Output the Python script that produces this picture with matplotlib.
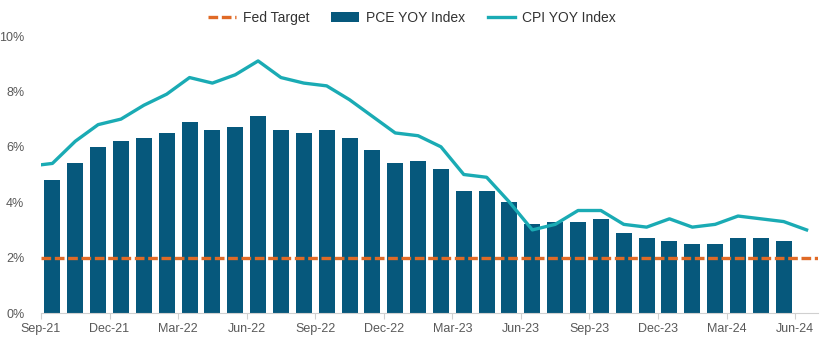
import matplotlib.pyplot as plt
import numpy as np

plt.rcParams['font.family'] = ['Liberation Sans', 'DejaVu Sans']

# monthly data, Sep-21 .. Jun-24 (PCE ends May-24)
months = ["Sep-21", "Oct-21", "Nov-21", "Dec-21", "Jan-22", "Feb-22", "Mar-22", "Apr-22",
          "May-22", "Jun-22", "Jul-22", "Aug-22", "Sep-22", "Oct-22", "Nov-22", "Dec-22",
          "Jan-23", "Feb-23", "Mar-23", "Apr-23", "May-23", "Jun-23", "Jul-23", "Aug-23",
          "Sep-23", "Oct-23", "Nov-23", "Dec-23", "Jan-24", "Feb-24", "Mar-24", "Apr-24",
          "May-24", "Jun-24"]
pce = [4.8, 5.4, 6.0, 6.2, 6.3, 6.5, 6.9, 6.6, 6.7, 7.1, 6.6, 6.5, 6.6, 6.3, 5.9, 5.4,
       5.5, 5.2, 4.4, 4.4, 4.0, 3.2, 3.3, 3.3, 3.4, 2.9, 2.7, 2.6, 2.5, 2.5, 2.7, 2.7, 2.6]
# CPI includes Aug-21 (clipped at left edge of chart)
cpi_aug21 = 5.3
cpi = [5.4, 6.2, 6.8, 7.0, 7.5, 7.9, 8.5, 8.3, 8.6, 9.1, 8.5, 8.3, 8.2, 7.7, 7.1, 6.5,
       6.4, 6.0, 5.0, 4.9, 4.0, 3.0, 3.2, 3.7, 3.7, 3.2, 3.1, 3.4, 3.1, 3.2, 3.5, 3.4,
       3.3, 3.0]
fed_target = 2.0

bar_col = '#06587c'
cpi_col = '#1aabb4'
fed_col = '#e06a26'

fig = plt.figure(figsize=(8.34, 3.43), dpi=100)
ax = fig.add_axes([41/834, 1 - 313/343, (818 - 41)/834, (313 - 36)/343])

xb = np.arange(len(pce)) + 0.5
bars = ax.bar(xb, pce, width=0.7, color=bar_col, label='PCE YOY Index', zorder=2)

xl = np.arange(-1, len(cpi)) + 0.5
cpi_line, = ax.plot(xl, [cpi_aug21] + cpi, color=cpi_col, lw=2.4, label='CPI YOY Index',
                    zorder=3, solid_joinstyle='round')

fed_line, = ax.plot([0, len(months)], [fed_target, fed_target], color=fed_col, lw=2.4,
                    dashes=(2.9, 1.1), label='Fed Target', zorder=4)

ax.set_xlim(0, len(months))
ax.set_ylim(0, 10)
ax.set_yticks(np.arange(0, 11, 2))
ax.set_yticklabels([f"{v}%" for v in range(0, 11, 2)])
ax.set_xticks(np.arange(0, len(months), 3))
ax.set_xticklabels(months[::3])

for s in ['top', 'right', 'left']:
    ax.spines[s].set_visible(False)
ax.spines['bottom'].set_color('#d0d0d0')
ax.tick_params(axis='y', length=0, pad=12, labelsize=9, labelcolor='#595959')
ax.tick_params(axis='x', length=4, color='#d0d0d0', labelsize=9, labelcolor='#595959', pad=3)

fig.legend([fed_line, bars, cpi_line], ['Fed Target', 'PCE YOY Index', 'CPI YOY Index'],
           loc='upper center', bbox_to_anchor=(0.494, 1.005), ncol=3, frameon=False,
           fontsize=10, handlelength=2.0, columnspacing=1.6, handletextpad=0.5,
           labelcolor='#333333')

fig.savefig('out.png', dpi=100)
